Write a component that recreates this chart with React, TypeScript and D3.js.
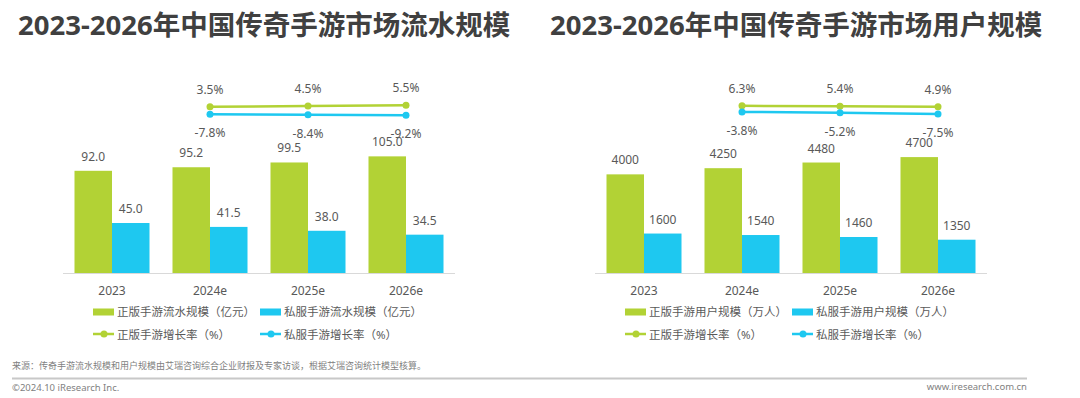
import * as d3 from "d3";
import React from "react";

const years = ["2023", "2024e", "2025e", "2026e"];
const growthYears = ["2024e", "2025e", "2026e"];

// 流水规模（亿元）
const revenueOfficial = [92.0, 95.2, 99.5, 105.0];
const revenuePrivate = [45.0, 41.5, 38.0, 34.5];
const revenueOfficialGrowth = [3.5, 4.5, 5.5];
const revenuePrivateGrowth = [-7.8, -8.4, -9.2];

// 用户规模（万人）
const usersOfficial = [4000, 4250, 4480, 4700];
const usersPrivate = [1600, 1540, 1460, 1350];
const usersOfficialGrowth = [6.3, 5.4, 4.9];
const usersPrivateGrowth = [-3.8, -5.2, -7.5];

const GREEN = "#b2d235";
const CYAN = "#1ec8f0";
const TEXT = "#595959";
const FONT = "'Noto Sans', 'Noto Sans CJK SC', sans-serif";

const W = 1080;
const H = 398;
const BASE = 273;

type PanelProps = {
  x0: number;
  title: string;
  official: number[];
  priv: number[];
  officialGrowth: number[];
  privGrowth: number[];
  yMax: number;
  yTop: number;
  rateRange: [number, number];
  fmt: (v: number) => string;
  legendA: string;
  legendB: string;
};

const Panel = (p: PanelProps) => {
  const x = d3.scaleBand<string>().domain(years).range([p.x0, p.x0 + 392]);
  const sub = d3.scaleBand<string>().domain(["a", "b"]).range([-37.5, 37.5]);
  const y = d3.scaleLinear().domain([0, p.yMax]).range([BASE, p.yTop]);
  const r = d3.scaleLinear().domain([-10, 10]).range(p.rateRange);
  const cx = (d: string) => (x(d) as number) + x.bandwidth() / 2;

  const line = d3
    .line<number>()
    .x((_, i) => cx(growthYears[i]))
    .y((v) => r(v));

  const series = [
    { key: "a", vals: p.official, color: GREEN },
    { key: "b", vals: p.priv, color: CYAN },
  ];

  const lx = p.x0 + 30;
  const lx2 = p.x0 + 197;

  return (
    <g>
      {series.map((s) =>
        s.vals.map((v, i) => {
          const bx = cx(years[i]) + (sub(s.key) as number);
          return (
            <g key={s.key + i}>
              <rect x={bx} y={y(v)} width={sub.bandwidth()} height={BASE - y(v)} fill={s.color} />
              <text
                x={bx + sub.bandwidth() / 2}
                y={y(v) - 10}
                textAnchor="middle"
                fontSize={12}
                fill={TEXT}
              >
                {p.fmt(v)}
              </text>
            </g>
          );
        })
      )}
      <line x1={p.x0} x2={p.x0 + 392} y1={BASE + 0.5} y2={BASE + 0.5} stroke="#d9d9d9" strokeWidth={1} />
      {years.map((d) => (
        <text key={d} x={cx(d)} y={295} textAnchor="middle" fontSize={12} fill={TEXT}>
          {d}
        </text>
      ))}

      {[
        { vals: p.officialGrowth, color: GREEN, dy: -13 },
        { vals: p.privGrowth, color: CYAN, dy: 23 },
      ].map((s, k) => (
        <g key={k}>
          <path d={line(s.vals) as string} fill="none" stroke={s.color} strokeWidth={2.5} />
          {s.vals.map((v, i) => (
            <g key={i}>
              <circle cx={cx(growthYears[i])} cy={r(v)} r={3.5} fill={s.color} />
              <text x={cx(growthYears[i])} y={r(v) + s.dy} textAnchor="middle" fontSize={12} fill={TEXT}>
                {v.toFixed(1) + "%"}
              </text>
            </g>
          ))}
        </g>
      ))}

      <text x={p.x0 - 45} y={35} fontSize={27.5} fontWeight="bold" fill="#404040">
        {p.title}
      </text>

      {/* legend */}
      <rect x={lx} y={308.5} width={21} height={7} fill={GREEN} />
      <text x={lx + 24} y={316} fontSize={11.5} fill={TEXT}>{p.legendA}</text>
      <rect x={lx2} y={308.5} width={21} height={7} fill={CYAN} />
      <text x={lx2 + 24} y={316} fontSize={11.5} fill={TEXT}>{p.legendB}</text>

      <line x1={lx} x2={lx + 21} y1={334} y2={334} stroke={GREEN} strokeWidth={2.5} />
      <circle cx={lx + 11} cy={334} r={3.5} fill={GREEN} />
      <text x={lx + 24} y={338.5} fontSize={11.5} fill={TEXT}>正版手游增长率（%）</text>
      <line x1={lx2} x2={lx2 + 21} y1={334} y2={334} stroke={CYAN} strokeWidth={2.5} />
      <circle cx={lx2 + 11} cy={334} r={3.5} fill={CYAN} />
      <text x={lx2 + 24} y={338.5} fontSize={11.5} fill={TEXT}>私服手游增长率（%）</text>
    </g>
  );
};

const App = () => {
  return (
    <svg
      width={W}
      height={H}
      style={{ position: "absolute", left: 0, top: 0, display: "block", background: "#fff" }}
      fontFamily={FONT}
    >
      <rect width={W} height={H} fill="#fff" />
      <Panel
        x0={63}
        title="2023-2026年中国传奇手游市场流水规模"
        official={revenueOfficial}
        priv={revenuePrivate}
        officialGrowth={revenueOfficialGrowth}
        privGrowth={revenuePrivateGrowth}
        yMax={120}
        yTop={BASE - 133.3}
        rateRange={[115.75, 102.35]}
        fmt={(v) => v.toFixed(1)}
        legendA="正版手游流水规模（亿元）"
        legendB="私服手游流水规模（亿元）"
      />
      <Panel
        x0={595}
        title="2023-2026年中国传奇手游市场用户规模"
        official={usersOfficial}
        priv={usersPrivate}
        officialGrowth={usersOfficialGrowth}
        privGrowth={usersPrivateGrowth}
        yMax={5000}
        yTop={BASE - 123.3}
        rateRange={[115.6, 103.6]}
        fmt={(v) => String(Math.round(v))}
        legendA="正版手游用户规模（万人）"
        legendB="私服手游用户规模（万人）"
      />

      <text x={12} y={369} fontSize={9} fill="#7f7f7f">
        来源：传奇手游流水规模和用户规模由艾瑞咨询综合企业财报及专家访谈，根据艾瑞咨询统计模型核算。
      </text>
      <line x1={12} x2={1027} y1={378.5} y2={378.5} stroke="#c8c8c8" strokeWidth={2} />
      <text x={12} y={391} fontSize={9.5} fill="#7f7f7f">©2024.10 iResearch Inc.</text>
      <text x={1027} y={390} fontSize={9.5} fill="#7f7f7f" textAnchor="end">www.iresearch.com.cn</text>
    </svg>
  );
};

export default App;
